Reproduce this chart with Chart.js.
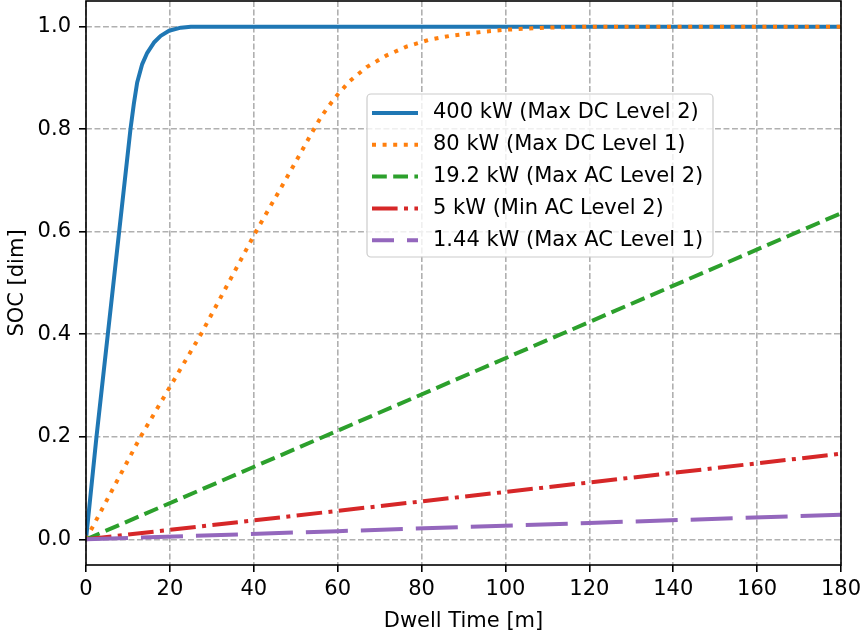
<!DOCTYPE html>
<html>
<head>
<meta charset="utf-8">
<script src="https://cdn.jsdelivr.net/npm/chart.js"></script>
<style>
  html, body { margin: 0; padding: 0; background: #fff; }
  canvas { display: block; }
</style>
</head>
<body>
<canvas id="c" width="862" height="630"></canvas>
<script>
// tick values
const xTicks = [0, 20, 40, 60, 80, 100, 120, 140, 160, 180];
const yTicks = [0.0, 0.2, 0.4, 0.6, 0.8, 1.0];

// series labels
const seriesLabels = [
  '400 kW (Max DC Level 2)',
  '80 kW (Max DC Level 1)',
  '19.2 kW (Max AC Level 2)',
  '5 kW (Min AC Level 2)',
  '1.44 kW (Max AC Level 1)'
];

// values (dwell time [m] -> SOC)
const dc400X = [0, 2.5, 5.2, 7.9, 10.6, 11.4, 12.2, 13.4, 14.6, 16.2, 17.8, 19.8, 22.6, 25, 30, 180];
const dc400Y = [0, 0.2, 0.4, 0.6, 0.8, 0.849, 0.891, 0.927, 0.949, 0.969, 0.982, 0.992, 0.998, 1.0, 1.0, 1.0];

const dc80X = [0, 13, 27.4, 40.5, 47, 51, 53.5, 56.2, 59.4, 62.9, 66.9, 71.7, 76.4, 81.6, 86.8, 94.7, 100, 110, 120, 180];
const dc80Y = [0, 0.2, 0.4, 0.6, 0.693, 0.751, 0.788, 0.826, 0.862, 0.894, 0.921, 0.944, 0.961, 0.974, 0.982, 0.990, 0.994, 0.998, 1.0, 1.0];

const ac192X = [0, 60, 120, 180];
const ac192Y = [0, 0.212, 0.424, 0.636];

const ac5X = [0, 60, 120, 180];
const ac5Y = [0, 0.0556, 0.111, 0.167];

const ac144X = [0, 60, 120, 180];
const ac144Y = [0, 0.016, 0.032, 0.048];

const FONT = '"DejaVu Sans", sans-serif';
const FS = 21;

function pts(xs, ys) {
  return xs.map((x, i) => ({ x: x, y: ys[i] }));
}

// frame + legend box drawn inside the axes, like matplotlib
const framePlugin = {
  id: 'frameLegend',
  afterDatasetsDraw(chart) {
    const ctx = chart.ctx;
    const a = chart.chartArea;
    ctx.save();
    ctx.strokeStyle = '#000';
    ctx.lineWidth = 1.6;
    ctx.setLineDash([]);
    ctx.strokeRect(a.left, a.top, a.right - a.left, a.bottom - a.top);

    // legend
    const bx = 367, by = 94, bw = 346, bh = 163, r = 4;
    ctx.beginPath();
    ctx.roundRect(bx, by, bw, bh, r);
    ctx.fillStyle = 'rgba(255,255,255,0.8)';
    ctx.fill();
    ctx.strokeStyle = '#cccccc';
    ctx.lineWidth = 1.2;
    ctx.stroke();

    ctx.font = FS + 'px ' + FONT;
    ctx.textBaseline = 'middle';
    chart.data.datasets.forEach((ds, i) => {
      const y = 113 + i * 31.8;
      ctx.strokeStyle = ds.borderColor;
      ctx.lineWidth = ds.borderWidth;
      ctx.lineCap = 'butt';
      ctx.setLineDash(ds.legendDash || ds.borderDash || []);
      ctx.beginPath();
      ctx.moveTo(372, y);
      ctx.lineTo(418, y);
      ctx.stroke();
      ctx.setLineDash([]);
      ctx.fillStyle = '#000';
      ctx.fillText(ds.label, 433, y);
    });
    ctx.restore();
  }
};

const datasets = [
  { label: seriesLabels[0], data: pts(dc400X, dc400Y), borderColor: '#1f77b4', borderDash: [] },
  { label: seriesLabels[1], data: pts(dc80X, dc80Y), borderColor: '#ff7f0e', borderDash: [4, 6.6] },
  { label: seriesLabels[2], data: pts(ac192X, ac192Y), borderColor: '#2ca02c', borderDash: [14.8, 6.4] },
  { label: seriesLabels[3], data: pts(ac5X, ac5Y), borderColor: '#d62728', borderDash: [25.6, 6.4, 4, 6.4] },
  { label: seriesLabels[4], data: pts(ac144X, ac144Y), borderColor: '#9467bd', borderDash: [42, 13], legendDash: [22, 13] }
].map((d, i) => Object.assign({
  borderWidth: 4,
  pointRadius: 0,
  pointHoverRadius: 0,
  fill: false,
  tension: 0,
  borderJoinStyle: 'round',
  borderCapStyle: 'butt',
  order: 4 - i
}, d));

const gridOpts = {
  color: '#b0b0b0',
  lineWidth: 1.6,
  drawTicks: true,
  tickLength: 7,
  tickColor: '#000',
  tickWidth: 1.6,
  tickBorderDash: []
};

new Chart(document.getElementById('c'), {
  type: 'line',
  data: { datasets: datasets },
  options: {
    responsive: false,
    animation: false,
    devicePixelRatio: 1,
    layout: { padding: { top: 1, right: 21, left: 0, bottom: 0 } },
    plugins: { legend: { display: false }, tooltip: { enabled: false } },
    scales: {
      x: {
        type: 'linear',
        min: 0,
        max: 180,
        afterBuildTicks: s => { s.ticks = xTicks.map(v => ({ value: v })); },
        afterFit: s => { s.height = 65; s.paddingLeft = 0; s.paddingRight = 0; },
        border: { display: false, dash: [5.9, 2.6] },
        grid: gridOpts,
        ticks: {
          color: '#000',
          font: { family: FONT, size: FS },
          padding: 5,
          maxRotation: 0,
          autoSkip: false,
          callback: v => String(v)
        },
        title: {
          display: true,
          text: 'Dwell Time [m]',
          color: '#000',
          font: { family: FONT, size: FS, lineHeight: 0.8 },
          padding: { top: 0, bottom: 0 }
        }
      },
      y: {
        type: 'linear',
        min: -0.05,
        max: 1.05,
        afterBuildTicks: s => { s.ticks = yTicks.map(v => ({ value: v })); },
        afterFit: s => { s.width = 86; s.paddingTop = 0; s.paddingBottom = 0; },
        border: { display: false, dash: [5.9, 2.6] },
        grid: gridOpts,
        ticks: {
          color: '#000',
          font: { family: FONT, size: FS },
          padding: 8,
          autoSkip: false,
          callback: v => Number(v).toFixed(1)
        },
        title: {
          display: true,
          text: 'SOC [dim]',
          color: '#000',
          font: { family: FONT, size: FS },
          padding: { top: 5, bottom: 5 }
        }
      }
    }
  },
  plugins: [framePlugin]
});
</script>
</body>
</html>
